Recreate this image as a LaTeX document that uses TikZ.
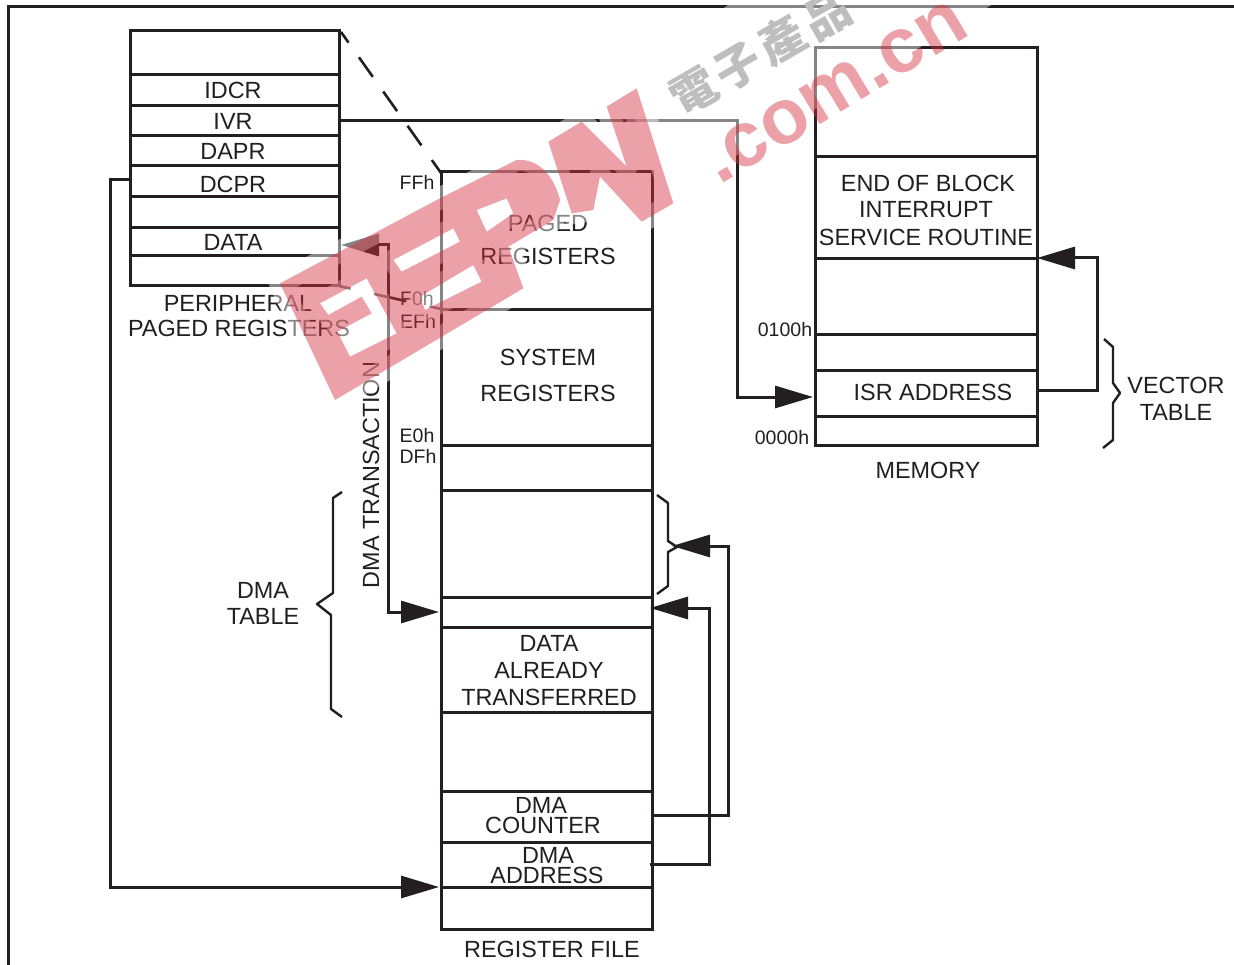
\documentclass[tikz,border=0pt]{standalone}
\usepackage{fontspec}
\setmainfont{Liberation Sans}
\newfontfamily\cjk{Noto Sans CJK TC}
\usetikzlibrary{arrows.meta}
\definecolor{ink}{HTML}{231F20}
\definecolor{wmred}{HTML}{D6303F}
\definecolor{wmgrey}{HTML}{BEBEBE}
\tikzset{
  cellbox/.style={draw=ink,line width=3pt,fill=white,inner sep=0pt,outer sep=0pt,rectangle},
  lab/.style={text=ink,inner sep=0pt,font=\fontsize{23.4}{26}\selectfont,align=center},
  addr/.style={text=ink,inner sep=0pt,font=\fontsize{19.5}{22}\selectfont},
  conn/.style={draw=ink,line width=3pt,line join=miter},
  tip/.style={-{Triangle[length=38pt,width=22pt]},conn},
  twotip/.style={{Triangle[length=38pt,width=22pt]}-{Triangle[length=38pt,width=22pt]},conn},
  dashline/.style={draw=ink,line width=2.6pt},
  bracket/.style={draw=ink,line width=2.4pt,line join=round},
}
% \cellnode{name}{x1}{y1}{x2}{y2}
\newcommand{\cellnode}[5]{%
  \pgfmathsetmacro{\cw}{#4-#2}\pgfmathsetmacro{\ch}{#5-#3}%
  \pgfmathsetmacro{\cx}{(#4+#2)/2}\pgfmathsetmacro{\cy}{(#5+#3)/2}%
  \node[cellbox,minimum width=\cw pt,minimum height=\ch pt] (#1) at (\cx,\cy) {};}
\def\wmpath{
  (60,640) -- (540,385) -- (770,270) .. controls (830,265) and (880,310) .. (900,390) -- (880,450) -- (745,530) -- (790,655) -- (225,990) -- cycle
  (180,700) -- (320,625) -- (410,790) -- (270,860) -- (232,785) -- (335,730) -- (305,680) -- (205,735) -- cycle
  (400,570) -- (580,475) -- (600,515) -- (425,605) -- cycle
  (480,680) -- (640,585) -- (665,635) -- (495,720) -- cycle
  (650,420) -- (740,385) -- (760,430) -- (680,485) -- cycle
  (865,215) -- (965,155) -- (1100,290) -- (1040,110) -- (1130,55) -- (1240,400) -- (1145,455) -- (1020,320) -- (1000,420) -- (935,430) -- cycle
}
\begin{document}
\begin{tikzpicture}[x=1pt,y=-1pt]
\useasboundingbox (0,0) rectangle (1234,965);
\clip (0,0) rectangle (1234,965);
\fill[white] (0,0) rectangle (1234,965);

% outer frame
\coordinate (frameA) at (8,965);
\coordinate (frameB) at (8,7);
\coordinate (frameC) at (1234,7);
\draw[conn] (frameA) -- (frameB) -- (frameC);

% peripheral paged registers
\cellnode{p0}{130}{31}{339}{75}
\cellnode{idcr}{130}{75}{339}{106}
\cellnode{ivr}{130}{106}{339}{136}
\cellnode{dapr}{130}{136}{339}{166}
\cellnode{dcpr}{130}{166}{339}{197}
\cellnode{p5}{130}{197}{339}{228}
\cellnode{pdata}{130}{228}{339}{256}
\cellnode{p7}{130}{256}{339}{286}
\node[lab] (tidcr) at (233,90) {IDCR};
\node[lab] (tivr) at (233,121) {IVR};
\node[lab] (tdapr) at (233,151) {DAPR};
\node[lab] (tdcpr) at (233,184) {DCPR};
\node[lab] (tdata) at (233,242) {DATA};
\node[lab] (tper) at (238,303) {PERIPHERAL};
\node[lab] (tpag) at (239,328) {PAGED REGISTERS};

% register file
\cellnode{rpaged}{441}{172}{652}{310}
\cellnode{rsys}{441}{310}{652}{445}
\cellnode{r2}{441}{445}{652}{490}
\cellnode{r3}{441}{490}{652}{597}
\cellnode{rptr}{441}{597}{652}{627}
\cellnode{rdone}{441}{627}{652}{712}
\cellnode{r6}{441}{712}{652}{791}
\cellnode{rcnt}{441}{791}{652}{842}
\cellnode{radr}{441}{842}{652}{887}
\cellnode{r9}{441}{887}{652}{929}
\node[lab] (t1) at (548,223) {PAGED};
\node[lab] (t2) at (548,256) {REGISTERS};
\node[lab] (t3) at (548,357) {SYSTEM};
\node[lab] (t4) at (548,393) {REGISTERS};
\node[lab] (t5) at (549,643) {DATA};
\node[lab] (t6) at (549,670) {ALREADY};
\node[lab] (t7) at (549,697) {TRANSFERRED};
\node[lab] (t8) at (541,805) {DMA};
\node[lab] (t9) at (543,825) {COUNTER};
\node[lab] (t10) at (548,855) {DMA};
\node[lab] (t11) at (547,875) {ADDRESS};
\node[lab] (t12) at (552,949) {REGISTER FILE};
\node[addr] (aff) at (417,182) {FFh};
\node[addr] (af0) at (417,299) {F0h};
\node[addr] (aef) at (418,321) {EFh};
\node[addr] (ae0) at (417,436) {E0h};
\node[addr] (adf) at (418,456) {DFh};

% memory
\cellnode{m0}{815}{48}{1037}{157}
\cellnode{misr}{815}{157}{1037}{259}
\cellnode{m2}{815}{259}{1037}{335}
\cellnode{m3}{815}{335}{1037}{371}
\cellnode{maddr}{815}{371}{1037}{416}
\cellnode{m5}{815}{416}{1037}{445}
\node[lab] (t13) at (928,183) {END OF BLOCK};
\node[lab] (t14) at (926,210) {INTERRUPT};
\node[lab] (t15) at (926,237) {SERVICE ROUTINE};
\node[lab] (t16) at (933,392) {ISR ADDRESS};
\node[lab] (t17) at (928,470) {MEMORY};
\node[lab] (t18) at (1176,385) {VECTOR};
\node[lab] (t19) at (1176,412) {TABLE};
\node[lab] (t20) at (263,590) {DMA};
\node[lab] (t21) at (263,616) {TABLE};
\node[lab,rotate=90] (t22) at (371,475) {DMA TRANSACTION};
\node[addr] (a01) at (785,330) {0100h};
\node[addr] (a00) at (782,438) {0000h};

% dashed zoom lines
\coordinate (pTR) at (341,32);
\coordinate (rTL) at (441,173);
\coordinate (pBR) at (339,286);
\coordinate (rML) at (441,309);
\draw[dashline,dash pattern=on 24pt off 18pt,dash phase=11pt] (pTR) -- (rTL);
\draw[dashline,dash pattern=on 33pt off 24pt,dash phase=21pt] (pBR) -- (rML);

% connectors
\coordinate (memIn) at (813,397);
\draw[tip] (ivr.east) -- (737,121) -- (737,397) -- (memIn);
\coordinate (isrOut) at (1037,391);
\coordinate (isrIn) at (1037,258);
\draw[tip] (isrOut) -- (1097,391) -- (1097,258) -- (isrIn);
\coordinate (dcprOut) at (130,180);
\coordinate (radrIn) at (439,887);
\draw[tip] (dcprOut) -- (110,180) -- (110,887) -- (radrIn);
\coordinate (ptrIn) at (439,612);
\coordinate (dataIn) at (341,245);
\draw[twotip] (dataIn) -- (388,245) -- (388,612) -- (ptrIn);
\coordinate (cntOut) at (652,815);
\coordinate (brTip) at (672,546);
\draw[tip] (cntOut) -- (728,815) -- (728,546) -- (brTip);
\coordinate (adrOut) at (650,864);
\coordinate (ptrR) at (650,608);
\draw[tip] (adrOut) -- (709,864) -- (709,608) -- (ptrR);

% braces
\draw[bracket] (342,492) -- (333,498) -- (333,593) -- (317,604) -- (331,615) -- (331,709) -- (342,717);
\draw[bracket] (657,495) -- (668,503) -- (668,541) -- (677,547) -- (668,552) -- (668,586) -- (657,594);
\draw[bracket] (1104,339) -- (1113,347) -- (1113,383) -- (1120,393) -- (1113,403) -- (1113,440) -- (1103,448);

% watermark
\fill[white,opacity=.45] (695,180) -- (1000,0) -- (735,0) -- (610,90) -- (655,175) -- cycle;
\begin{scope}[shift={(260,70)},x=.33333pt,y=-.33333pt]
  \draw[white,opacity=.45,line width=22pt,line join=round] \wmpath;
  \fill[wmred,opacity=.45,even odd rule] \wmpath;
\end{scope}
\node[inner sep=0pt,rotate=31,text=wmred,text opacity=.45,font=\fontsize{78}{80}\selectfont\bfseries] (wmcom) at (835,92) {.com.cn};
\node[inner sep=0pt,rotate=30,text=wmgrey,font=\fontsize{46}{50}\selectfont\cjk\bfseries] (wmcn) at (760,53) {電\kern5pt子\kern5pt產\kern5pt品};
\end{tikzpicture}
\end{document}
